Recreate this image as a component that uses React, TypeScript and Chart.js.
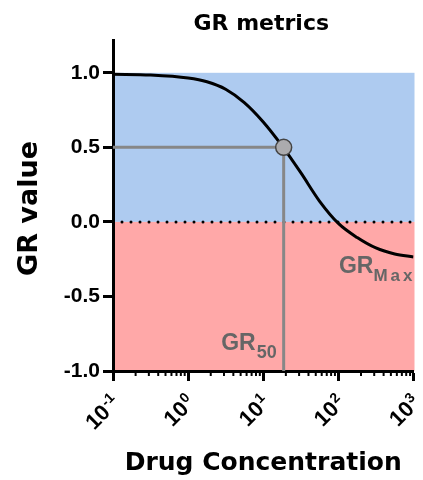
import React, { useEffect, useRef } from "react";
import { Chart, registerables } from "chart.js";

Chart.register(...registerables);

// ---- data ----
const concentrations = [0.1, 0.316, 1, 1.78, 3.16, 5.6, 10, 17.8, 31.6, 56, 100, 178, 316, 562, 1000];
const grValues = [0.99, 0.985, 0.965, 0.94, 0.89, 0.8, 0.67, 0.51, 0.33, 0.14, -0.01, -0.105, -0.175, -0.215, -0.235];
const gr50Conc = 18.7;
const gr50Value = 0.5;
const grMaxValue = -0.235;
const xMajorTicks = [0.1, 1, 10, 100, 1000];
const xTickExponents = ["-1", "0", "1", "2", "3"];
const xMinorMultipliers = [2, 3, 4, 5, 6, 7, 8, 9];
const yTicks = [-1, -0.5, 0, 0.5, 1];
const xMin = 0.1;
const xMax = 1000;
const yMin = -1;
const yMax = 1.22;
const chartTitle = "GR metrics";
const xTitle = "Drug Concentration";
const yTitle = "GR value";

const BLUE = "#AECBF0";
const RED = "#FFA8A8";
const GRAY_LINE = "#878787";
const ANNOT = "#666666";
const TITLE_FONT = "'DejaVu Sans', sans-serif";
const TICK_FONT = "'Liberation Sans', Arial, sans-serif";

const bandsPlugin = {
  id: "bands",
  beforeDraw(chart: any) {
    const { ctx, scales } = chart;
    const x = scales.x;
    const y = scales.y;
    const l = x.getPixelForValue(xMin);
    const r = x.getPixelForValue(xMax) + 1;
    const yTop = y.getPixelForValue(1);
    const yZero = y.getPixelForValue(0);
    const yBot = y.getPixelForValue(-1);
    ctx.save();
    ctx.fillStyle = BLUE;
    ctx.fillRect(l, yTop, r - l, yZero - yTop);
    ctx.fillStyle = RED;
    ctx.fillRect(l, yZero, r - l, yBot - yZero);
    ctx.restore();
  },
};

const textPlugin = {
  id: "texts",
  afterDraw(chart: any) {
    const { ctx, scales, chartArea } = chart;
    const x = scales.x;
    const y = scales.y;
    const cx = (chartArea.left + chartArea.right) / 2;
    ctx.save();
    ctx.fillStyle = "#000";

    // title
    ctx.font = `bold 22px ${TITLE_FONT}`;
    ctx.textAlign = "center";
    ctx.textBaseline = "alphabetic";
    ctx.fillText(chartTitle, cx - 2, 30);

    // x title
    ctx.font = `bold 25px ${TITLE_FONT}`;
    ctx.fillText(xTitle, cx, 470);

    // y title
    ctx.save();
    ctx.translate(37, (chartArea.top + chartArea.bottom) / 2 + 3);
    ctx.rotate(-Math.PI / 2);
    ctx.font = `bold 27px ${TITLE_FONT}`;
    ctx.fillText(yTitle, 0, 0);
    ctx.restore();

    // minor x ticks
    ctx.strokeStyle = "#000";
    ctx.lineWidth = 2;
    for (let k = -1; k < 3; k++) {
      for (const m of xMinorMultipliers) {
        const px = x.getPixelForValue(m * Math.pow(10, k));
        ctx.beginPath();
        ctx.moveTo(px, chartArea.bottom);
        ctx.lineTo(px, chartArea.bottom + 5);
        ctx.stroke();
      }
    }

    // x tick labels (rotated, with superscripts)
    xMajorTicks.forEach((v, i) => {
      const px = x.getPixelForValue(v);
      ctx.save();
      ctx.translate(px + 8, chartArea.bottom + 33);
      ctx.rotate(-Math.PI / 4);
      ctx.textAlign = "left";
      ctx.textBaseline = "alphabetic";
      ctx.font = `bold 14px ${TICK_FONT}`;
      const ew = ctx.measureText(xTickExponents[i]).width;
      ctx.fillText(xTickExponents[i], -ew, -8);
      ctx.font = `bold 22px ${TICK_FONT}`;
      const mw = ctx.measureText("10").width;
      ctx.fillText("10", -ew - mw - 1, 0);
      ctx.restore();
    });

    // GR50 annotation
    ctx.fillStyle = ANNOT;
    ctx.textAlign = "left";
    const gx = x.getPixelForValue(gr50Conc) - 7;
    const gy = chartArea.bottom - 21;
    ctx.font = `bold 18px ${TICK_FONT}`;
    const w50 = ctx.measureText("50").width;
    ctx.fillText("50", gx - w50, gy + 8);
    ctx.font = `bold 23px ${TICK_FONT}`;
    const wGR = ctx.measureText("GR").width;
    ctx.fillText("GR", gx - w50 - wGR - 1, gy);

    // GRmax annotation
    const my = y.getPixelForValue(grMaxValue) + 16;
    const mx = chartArea.right + 2;
    ctx.font = `bold 17px ${TICK_FONT}`;
    (ctx as any).letterSpacing = "3px";
    const wMax = ctx.measureText("Max").width;
    ctx.fillText("Max", mx - wMax, my + 8);
    (ctx as any).letterSpacing = "0px";
    ctx.font = `bold 23px ${TICK_FONT}`;
    const wGR2 = ctx.measureText("GR").width;
    ctx.fillText("GR", mx - wMax - wGR2, my);

    ctx.restore();
  },
};

export default function App() {
  const ref = useRef<HTMLCanvasElement | null>(null);

  useEffect(() => {
    document.body.style.margin = "0";
    const canvas = ref.current;
    if (!canvas) return;
    const curve = concentrations.map((c, i) => ({ x: c, y: grValues[i] }));
    const chart = new Chart(canvas, {
      type: "line",
      data: {
        datasets: [
          {
            label: "GR50 point",
            data: [{ x: gr50Conc, y: gr50Value }],
            showLine: false,
            pointRadius: 8,
            pointBackgroundColor: "#ABABAE",
            pointBorderColor: "#444",
            pointBorderWidth: 1.5,
          },
          {
            label: "GR curve",
            data: curve,
            borderColor: "#000",
            borderWidth: 3,
            pointRadius: 0,
            cubicInterpolationMode: "monotone",
            fill: false,
          },
          {
            label: "GR50 guide",
            data: [
              { x: xMin, y: gr50Value },
              { x: gr50Conc, y: gr50Value },
              { x: gr50Conc, y: yMin },
            ],
            borderColor: GRAY_LINE,
            borderWidth: 3,
            pointRadius: 0,
            tension: 0,
          },
          {
            label: "zero",
            data: [
              { x: xMin, y: 0 },
              { x: xMax, y: 0 },
            ],
            borderColor: "#000",
            borderWidth: 3,
            borderDash: [0, 9],
            borderCapStyle: "round",
            pointRadius: 0,
          },
        ],
      },
      options: {
        animation: false,
        responsive: false,
        devicePixelRatio: 1,
        layout: { padding: { top: 40, right: 6, bottom: 0, left: 0 } },
        plugins: {
          legend: { display: false },
          title: { display: false },
          tooltip: { enabled: false },
        },
        scales: {
          x: {
            type: "logarithmic",
            min: xMin,
            max: xMax,
            afterBuildTicks: (scale: any) => {
              scale.ticks = xMajorTicks.map((v) => ({ value: v, major: true }));
            },
            afterFit: (scale: any) => {
              scale.height = 109;
            },
            ticks: { display: false },
            grid: {
              display: true,
              drawOnChartArea: false,
              drawTicks: true,
              tickLength: 10,
              tickColor: "#000",
              tickWidth: 3,
            },
            border: { display: true, color: "#000", width: 3 },
          },
          y: {
            type: "linear",
            min: yMin,
            max: yMax,
            afterBuildTicks: (scale: any) => {
              scale.ticks = yTicks.map((v) => ({ value: v }));
            },
            afterFit: (scale: any) => {
              scale.width = 113;
            },
            ticks: {
              color: "#000",
              padding: 3,
              font: { family: TICK_FONT, size: 21, weight: "bold" },
              callback: (v: any) => Number(v).toFixed(1),
            },
            grid: {
              display: true,
              drawOnChartArea: false,
              drawTicks: true,
              tickLength: 10,
              tickColor: "#000",
              tickWidth: 3,
            },
            border: { display: true, color: "#000", width: 3 },
          },
        },
      },
      plugins: [bandsPlugin, textPlugin],
    } as any);
    return () => chart.destroy();
  }, []);

  return (
    <div style={{ width: 423, height: 480 }}>
      <canvas ref={ref} width={423} height={480} style={{ display: "block" }} />
    </div>
  );
}
